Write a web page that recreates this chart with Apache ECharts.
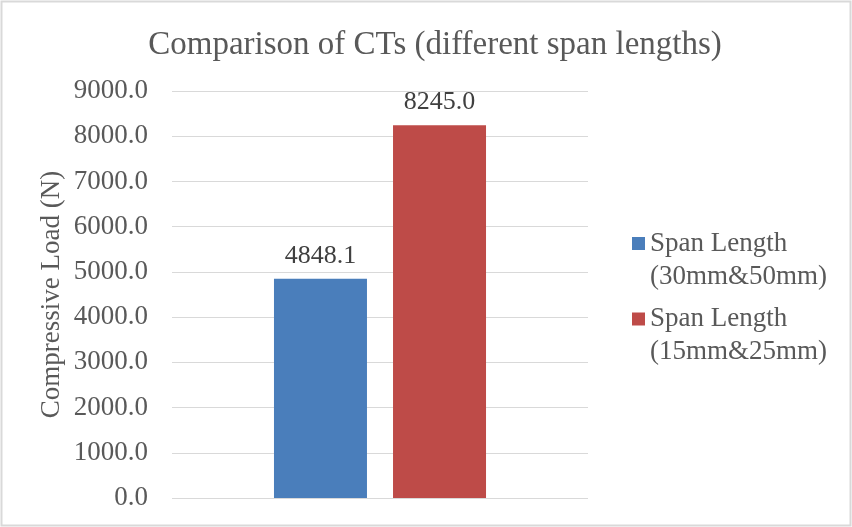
<!DOCTYPE html>
<html>
<head>
<meta charset="utf-8">
<style>
  html, body { margin: 0; padding: 0; background: #fff; }
  #chart { width: 852px; height: 527px; }
</style>
<script src="https://cdn.jsdelivr.net/npm/echarts@6/dist/echarts.min.js"></script>
</head>
<body>
<div id="chart"></div>
<script>
// Compressive load per span-length configuration
const categories = ['CT'];
const seriesNames = ['Span Length\n(30mm&50mm)', 'Span Length\n(15mm&25mm)'];
const seriesValues = [[4848.1], [8245.0]];
const seriesColors = ['#4a7ebb', '#be4b48'];
const yTicks = { min: 0, max: 9000, interval: 1000 };

const serif = '"Liberation Serif", "Times New Roman", serif';
const chart = echarts.init(document.getElementById('chart'), null, { renderer: 'canvas' });

chart.setOption({
  backgroundColor: '#fff',
  animation: false,
  title: {
    text: 'Comparison of CTs (different span lengths)',
    left: 430, top: 24, textAlign: 'center',
    textStyle: { fontFamily: serif, fontSize: 33, fontWeight: 'normal', color: '#595959' }
  },
  graphic: [{
    type: 'rect', shape: { x: 1.5, y: 1.5, width: 849, height: 524 },
    style: { fill: 'none', stroke: '#d9d9d9', lineWidth: 2 }, silent: true
  }],
  legend: {
    orient: 'vertical', left: 627, top: 189, itemWidth: 13, itemHeight: 13,
    itemGap: -23.5, icon: 'rect',
    // a blank leading line keeps the marker level with the first text line
    formatter: name => ' \n' + name,
    textStyle: { fontFamily: serif, fontSize: 27, color: '#595959', lineHeight: 33 },
    data: seriesNames
  },
  grid: { left: 172, right: 264, top: 91, bottom: 29, containLabel: false },
  xAxis: {
    type: 'category', data: categories,
    axisLine: { show: false }, axisTick: { show: false }, axisLabel: { show: false }
  },
  yAxis: {
    type: 'value', min: yTicks.min, max: yTicks.max, interval: yTicks.interval,
    name: 'Compressive Load (N)', nameLocation: 'middle', nameGap: 107, nameRotate: 90,
    nameTextStyle: { fontFamily: serif, fontSize: 27, color: '#595959' },
    axisLine: { show: false }, axisTick: { show: false },
    axisLabel: {
      fontFamily: serif, fontSize: 27, color: '#595959', margin: 24,
      formatter: v => v.toFixed(1)
    },
    splitLine: { lineStyle: { color: '#d9d9d9', width: 1 } }
  },
  series: seriesNames.map((name, i) => ({
    name, type: 'bar', data: seriesValues[i], barWidth: 93, barGap: '28%',
    itemStyle: { color: seriesColors[i] },
    label: {
      show: true, position: 'top', distance: 10,
      fontFamily: serif, fontSize: 26, color: '#404040',
      formatter: p => p.value.toFixed(1)
    }
  }))
});
</script>
</body>
</html>
